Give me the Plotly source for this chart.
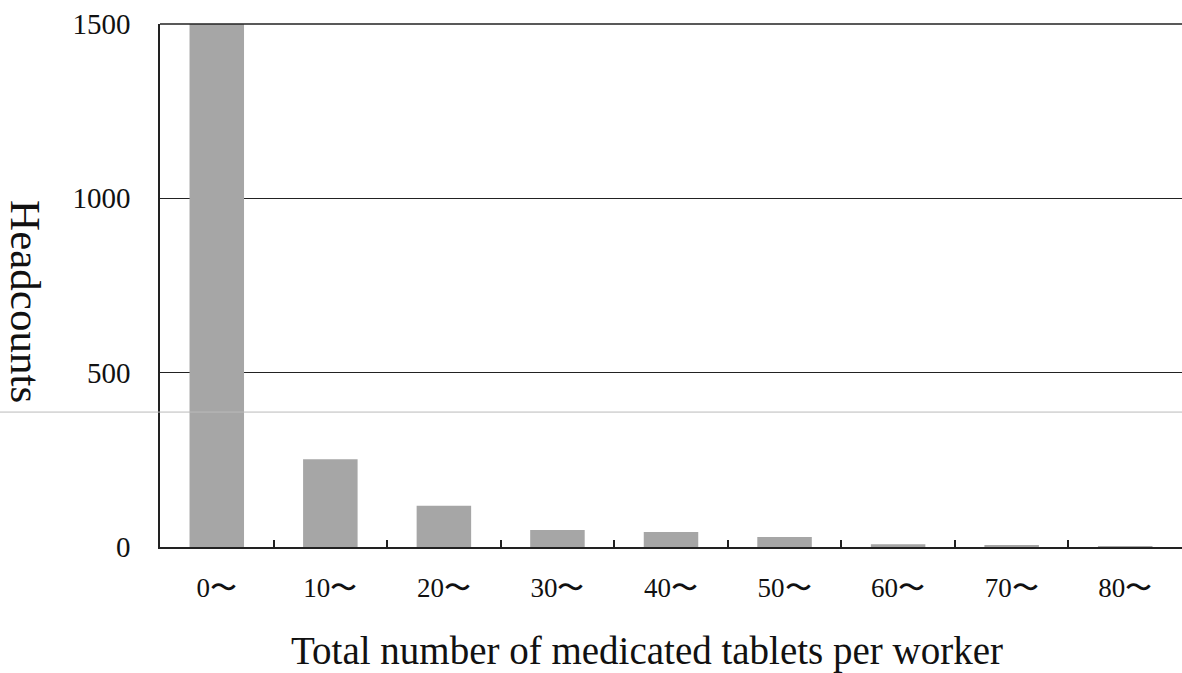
import plotly.graph_objects as go

categories = ["0〜", "10〜", "20〜", "30〜", "40〜", "50〜", "60〜", "70〜", "80〜"]
headcounts = [1500, 252, 118, 49, 43, 29, 8, 6, 1]
y_ticks = [0, 500, 1000, 1500]

serif = "Liberation Serif, Times New Roman, serif"

W, H = 1182, 673

fig = go.Figure()
fig.add_trace(go.Bar(
    x=categories, y=headcounts,
    marker=dict(color="#a6a6a6", line=dict(width=0)),
    width=0.48,
))

fig.update_layout(
    width=W, height=H,
    margin=dict(l=160, r=0, t=24, b=126),
    paper_bgcolor="white", plot_bgcolor="white",
    showlegend=False,
    font=dict(family=serif, color="#111111"),
    xaxis=dict(
        type="category",
        showline=True, linecolor="#222222", linewidth=1.5,
        ticks="inside", tickson="boundaries", ticklen=7, tickcolor="#222222", tickwidth=1.5,
        tickfont=dict(family=serif, size=27, color="#111111"),
        ticklabelstandoff=16,
        showgrid=False, range=[-0.5, 8.5],
    ),
    yaxis=dict(
        range=[0, 1500], tickvals=y_ticks,
        showline=True, linecolor="#222222", linewidth=1.5,
        ticks="inside", ticklen=6, tickcolor="#222222",
        tickfont=dict(family=serif, size=29, color="#111111"),
        ticklabelstandoff=22,
        showgrid=True, gridcolor="#222222", gridwidth=1,
        zeroline=False,
    ),
    annotations=[
        dict(text="Headcounts", textangle=90, xref="paper", yref="paper",
             x=-0.156, y=0.47, xanchor="left", yanchor="middle", showarrow=False,
             font=dict(family=serif, size=43, color="#111111")),
        dict(text="Total number of medicated tablets per worker", xref="paper", yref="paper",
             x=0.4765, y=-0.198, xanchor="center", yanchor="middle", showarrow=False,
             font=dict(family=serif, size=39, color="#111111")),
    ],
    shapes=[
        dict(type="line", xref="paper", yref="paper", x0=0, x1=1.0, y0=1, y1=1,
             line=dict(color="#222222", width=1.5)),
        dict(type="line", xref="paper", yref="paper", x0=-0.16, x1=1.0, y0=0.258, y1=0.258,
             line=dict(color="#bbbbbb", width=1)),
    ],
)

fig.write_html(
    "out.html",
    config={"displayModeBar": False},
    post_script="document.body.style.margin='0';document.body.style.overflow='hidden';",
)
